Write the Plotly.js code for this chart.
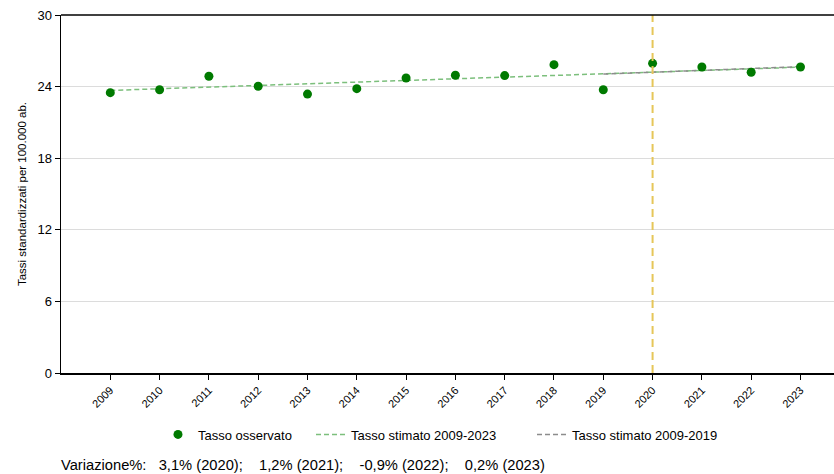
<!DOCTYPE html>
<html><head><meta charset="utf-8">
<script src="https://cdn.plot.ly/plotly-3.0.1.min.js"></script>
<style>html,body{margin:0;padding:0;background:#fff}</style>
</head><body>
<div id="chart" style="width:834px;height:474px"></div>
<script>
const years = [2009,2010,2011,2012,2013,2014,2015,2016,2017,2018,2019,2020,2021,2022,2023];
const observed = [23.49,23.74,24.87,24.03,23.37,23.83,24.72,24.95,24.92,25.84,23.74,25.95,25.64,25.2,25.64];
const trend0923 = [23.68,23.82,23.96,24.10,24.24,24.38,24.52,24.66,24.80,24.94,25.07,25.2,25.34,25.48,25.63];
const yearsProj = [2019,2020,2021,2022,2023];
const trend0919 = [25.05,25.21,25.37,25.52,25.67];
const breakYear = 2020;
const yTicks = [0,6,12,18,24,30];
const noteLabel = "Variazione%:";
const noteParts = ["3,1% (2020);", "1,2% (2021);", "-0,9% (2022);", "0,2% (2023)"];

const NB = '\u00a0';
const noteText = noteLabel + NB.repeat(3) + noteParts.join(NB.repeat(4));
const font = "Liberation Sans, Arial, sans-serif";
const W = 834;
const legBase = {orientation:'h', xref:'container', yref:'container', y:0.115, yanchor:'top',
                 xanchor:'left', font:{size:13}, itemwidth:30, bgcolor:'rgba(0,0,0,0)'};
const traces = [
  {x: years, y: trend0923, type:'scatter', mode:'lines', name:'Tasso stimato 2009-2023', legend:'legend2',
   line:{color:'#7cbf7c', width:1.5, dash:'5px,3px'}},
  {x: yearsProj, y: trend0919, type:'scatter', mode:'lines', name:'Tasso stimato 2009-2019', legend:'legend3',
   line:{color:'#8c8c8c', width:1.5, dash:'5px,3px'}},
  {x: years, y: observed, type:'scatter', mode:'markers', name:'Tasso osservato', legend:'legend',
   marker:{color:'#007a00', size:9}}
];
const layout = {
  width:834, height:474,
  margin:{l:61, r:0, t:15, b:101},
  paper_bgcolor:'#fff', plot_bgcolor:'#fff',
  font:{family:font, size:12, color:'#000'},
  showlegend:true,
  legend:Object.assign({}, legBase, {x:158/W}),
  legend2:Object.assign({}, legBase, {x:311/W}),
  legend3:Object.assign({}, legBase, {x:532/W}),
  xaxis:{range:[2008, 2023.68], tickmode:'array', tickvals:years, ticktext:years.map(String),
         tickangle:-45, tickfont:{size:11}, ticks:'outside', ticklen:5, tickcolor:'#000',
         showgrid:false, zeroline:false, showline:true, linecolor:'#000', linewidth:1.5,
         mirror:false},
  yaxis:{range:[0,30], tickmode:'array', tickvals:yTicks, ticks:'outside', ticklen:5, tickcolor:'#000',
         tickfont:{size:13}, showgrid:true, gridcolor:'#dcdcdc', gridwidth:1, zeroline:false,
         showline:true, linecolor:'#000', linewidth:1.5,
         title:{text:'Tassi standardizzati per 100.000 ab.', font:{size:11.5}, standoff:8}},
  shapes:[
    {type:'line', xref:'x', yref:'paper', x0:breakYear, x1:breakYear, y0:0, y1:1,
     line:{color:'#e6c659', width:2, dash:'8px,5px'}},
    {type:'line', xref:'paper', yref:'paper', x0:0, x1:1, y0:1, y1:1,
     line:{color:'#000', width:1.5}}
  ],
  annotations:[
    {xref:'paper', yref:'paper', x:0, xanchor:'left', y:-0.257, yanchor:'middle', showarrow:false,
     text:noteText, font:{size:14.7}, xshift:-2}
  ]
};
Plotly.newPlot('chart', traces, layout, {displayModeBar:false, staticPlot:true});
</script>
</body></html>
